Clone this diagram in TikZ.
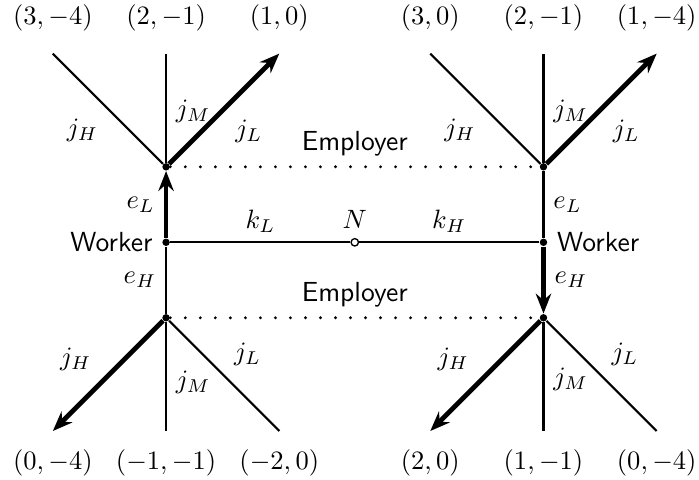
\documentclass[tikz,border=0pt]{standalone}
\usepackage{tikz}
\usetikzlibrary{positioning,arrows.meta}

\begin{document}
\begin{tikzpicture}[
    font=\fontsize{10.4}{12.5}\selectfont,
    agent/.style={circle, fill=black, inner sep=0pt, minimum size=2.8pt},
    hub/.style={circle, draw=black, fill=white, inner sep=0pt, minimum size=2.8pt, line width=0.5pt},
    branch/.style={line width=0.8pt},
    chosen/.style={line width=1.8pt, -{Stealth[length=7.5pt, width=5.8pt, inset=2.5pt]}},
    tie/.style={line width=1.2pt, line cap=round, dash pattern=on 0pt off 5.66pt},
    roles/.style={font=\fontsize{10.4}{12.5}\sffamily}
  ]
    \useasboundingbox (-4.70,-3.14) rectangle (4.56,3.21);
    % workers, employers and the bargaining point
    \node[hub, label={[name=Nlab]above:$N$}] (N) at (0,0) {};
    \node[agent] (wl) at (-2.5,0) {};
    \node[agent] (wr) at (2.5,0) {};
    \node[agent] (elt) at (-2.5,1) {};
    \node[agent] (elb) at (-2.5,-1) {};
    \node[agent] (ert) at (2.5,1) {};
    \node[agent] (erb) at (2.5,-1) {};
    \node[roles, left=0pt of wl] (wllab) {Worker};
    \node[roles, right=0pt of wr] (wrlab) {Worker};
    % branch ends
    \coordinate (lth) at (-4,2.5);
    \coordinate (ltm) at (-2.5,2.5);
    \coordinate (ltl) at (-1,2.5);
    \coordinate (lbh) at (-4,-2.5);
    \coordinate (lbm) at (-2.5,-2.5);
    \coordinate (lbl) at (-1,-2.5);
    \coordinate (rth) at (1,2.5);
    \coordinate (rtm) at (2.5,2.5);
    \coordinate (rtl) at (4,2.5);
    \coordinate (rbh) at (1,-2.5);
    \coordinate (rbm) at (2.5,-2.5);
    \coordinate (rbl) at (4,-2.5);
    % payoffs
    \node[above=5pt of lth] (plth) {$(3,-4)$};
    \node[above=5pt of ltm] (pltm) {$(2,-1)$};
    \node[above=5pt of ltl] (pltl) {$(1,0)$};
    \node[above=5pt of rth] (prth) {$(3,0)$};
    \node[above=5pt of rtm] (prtm) {$(2,-1)$};
    \node[above=5pt of rtl] (prtl) {$(1,-4)$};
    \node[below=3.5pt of lbh] (plbh) {$(0,-4)$};
    \node[below=3.5pt of lbm] (plbm) {$(-1,-1)$};
    \node[below=3.5pt of lbl] (plbl) {$(-2,0)$};
    \node[below=3.5pt of rbh] (prbh) {$(2,0)$};
    \node[below=3.5pt of rbm] (prbm) {$(1,-1)$};
    \node[below=3.5pt of rbl] (prbl) {$(0,-4)$};
    % nature and worker moves
    \draw[branch] (wl) -- node[above] (kl) {$k_L$} (N) -- node[above] (kh) {$k_H$} (wr);
    \draw[chosen] (wl) -- node[left] (ell) {$e_L$} (elt);
    \draw[branch] (wl) -- node[left] (ehl) {$e_H$} (elb);
    \draw[branch] (wr) -- node[right] (elr) {$e_L$} (ert);
    \draw[chosen] (wr) -- node[right] (ehr) {$e_H$} (erb);
    % information sets
    \draw[tie] (elt) -- node[roles, above] (empt) {Employer} (ert);
    \draw[tie] (elb) -- node[roles, above] (empb) {Employer} (erb);
    % employer moves
    \draw[branch] (elt) -- node[below left] (jhlt) {$j_H$} (lth);
    \draw[branch] (elt) -- node[pos=0.47, right] (jmlt) {$j_M$} (ltm);
    \draw[chosen] (elt) -- node[below right] (jllt) {$j_L$} (ltl);
    \draw[chosen] (elb) -- node[pos=0.55, above left] (jhlb) {$j_H$} (lbh);
    \draw[branch] (elb) -- node[pos=0.55, right] (jmlb) {$j_M$} (lbm);
    \draw[branch] (elb) -- node[above right] (jllb) {$j_L$} (lbl);
    \draw[branch] (ert) -- node[below left] (jhrt) {$j_H$} (rth);
    \draw[branch] (ert) -- node[pos=0.47, right] (jmrt) {$j_M$} (rtm);
    \draw[chosen] (ert) -- node[below right] (jlrt) {$j_L$} (rtl);
    \draw[chosen] (erb) -- node[pos=0.55, above left] (jhrb) {$j_H$} (rbh);
    \draw[branch] (erb) -- node[pos=0.53, right] (jmrb) {$j_M$} (rbm);
    \draw[branch] (erb) -- node[above right] (jlrb) {$j_L$} (rbl);
  \end{tikzpicture}
\end{document}
